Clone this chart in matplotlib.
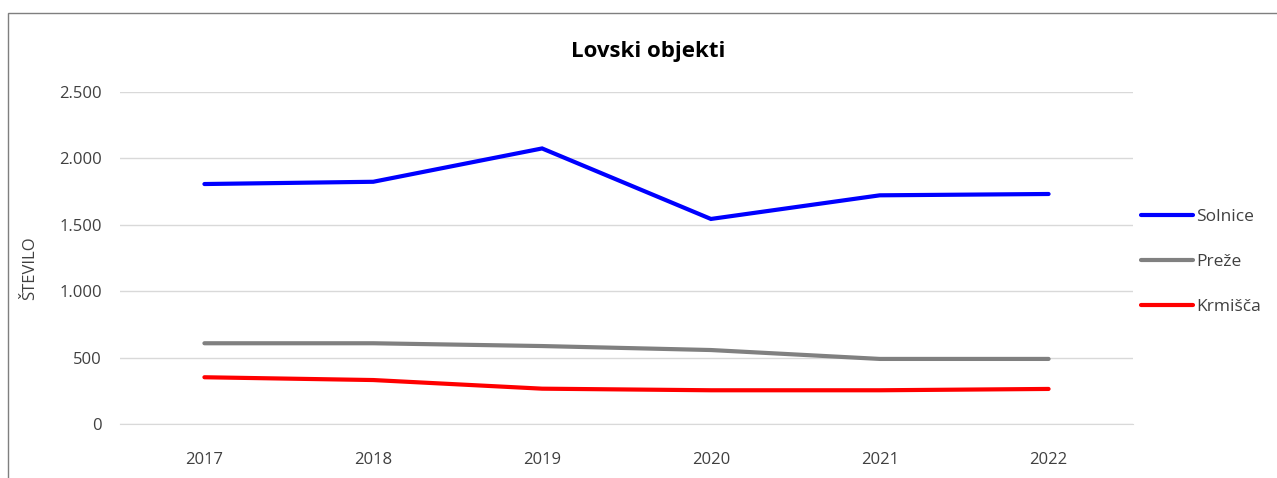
import matplotlib.pyplot as plt
from matplotlib.ticker import FuncFormatter
from matplotlib.patches import Rectangle

# Data
years = ['2017', '2018', '2019', '2020', '2021', '2022']
solnice = [1807, 1824, 2075, 1544, 1722, 1732]
preze = [608, 608, 587, 557, 490, 490]
krmisca = [352, 331, 266, 254, 254, 264]

series_names = ['Solnice', 'Pre\u017ee', 'Krmi\u0161\u010da']
series_colors = ['#0000FF', '#808080', '#FF0000']

plt.rcParams['font.family'] = ['Open Sans', 'DejaVu Sans']

fig = plt.figure(figsize=(12.77, 4.78), dpi=100)
ax = fig.add_axes([120 / 1277, 1 - 424 / 478, (1133 - 120) / 1277, (424 - 92) / 478])

x = range(len(years))
for vals, name, col in zip([solnice, preze, krmisca], series_names, series_colors):
    ax.plot(x, vals, color=col, lw=3, solid_capstyle='round', solid_joinstyle='miter', label=name)

ax.set_xlim(-0.5, len(years) - 0.5)
ax.set_ylim(0, 2500)
ax.set_yticks(range(0, 2501, 500))
ax.yaxis.set_major_formatter(FuncFormatter(lambda v, p: f"{int(v):,}".replace(',', '.')))
ax.set_xticks(list(x))
ax.set_xticklabels(years)

ax.grid(axis='y', color='#d9d9d9', lw=1)
ax.set_axisbelow(True)
for s in ['top', 'right', 'left']:
    ax.spines[s].set_visible(False)
ax.spines['bottom'].set_color('#d9d9d9')
ax.tick_params(axis='both', length=0, labelsize=12, colors='#404040')
ax.tick_params(axis='y', pad=13)
ax.tick_params(axis='x', pad=20)

fig.text(30 / 1277, 1 - 268 / 478, '\u0160TEVILO', rotation=90, ha='center', va='center',
         fontsize=12, color='#404040')

fig.text(648 / 1277, 1 - 51 / 478, 'Lovski objekti', ha='center', va='center',
         fontsize=16, fontweight='bold', color='black')

leg = ax.legend(loc='center left', bbox_to_anchor=(1134 / 1277, 1 - 262 / 478),
                bbox_transform=fig.transFigure, frameon=False, fontsize=12.5,
                handlelength=3.0, handletextpad=0.2, labelspacing=1.65, borderaxespad=0)
for t in leg.get_texts():
    t.set_color('#404040')

# chart area border
fig.patches.append(Rectangle((8 / 1277, -0.05), 1.1, 1 - 13 / 478 + 0.05,
                             transform=fig.transFigure, fill=False,
                             edgecolor='#7f7f7f', lw=1))

fig.savefig('out.png', dpi=100)
